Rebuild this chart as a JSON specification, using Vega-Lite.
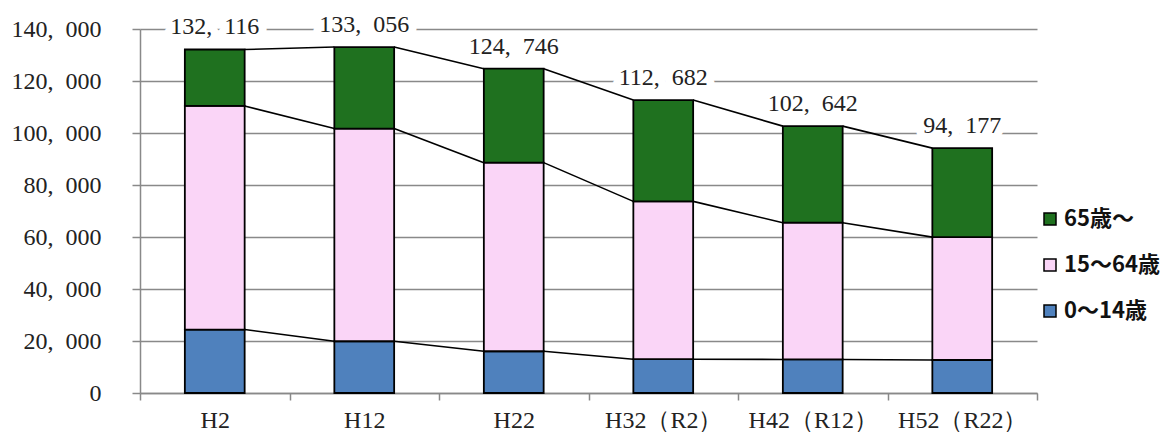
{
  "$schema": "https://vega.github.io/schema/vega-lite/v6.json",
  "width": 897,
  "height": 364,
  "autosize": "none",
  "padding": {"left": 140, "top": 29, "right": 132, "bottom": 39},
  "background": "white",
  "config": {
    "view": {"stroke": null},
    "axis": {"domainColor": "#898989", "tickColor": "#898989", "gridColor": "#898989"}
  },
  "datasets": {
    "bars": [
      {"cat": "H2", "group": "0～14歳", "value": 24400},
      {"cat": "H2", "group": "15～64歳", "value": 86000},
      {"cat": "H2", "group": "65歳～", "value": 21716},
      {"cat": "H12", "group": "0～14歳", "value": 19900},
      {"cat": "H12", "group": "15～64歳", "value": 81800},
      {"cat": "H12", "group": "65歳～", "value": 31356},
      {"cat": "H22", "group": "0～14歳", "value": 16050},
      {"cat": "H22", "group": "15～64歳", "value": 72550},
      {"cat": "H22", "group": "65歳～", "value": 36146},
      {"cat": "H32（R2）", "group": "0～14歳", "value": 13000},
      {"cat": "H32（R2）", "group": "15～64歳", "value": 60700},
      {"cat": "H32（R2）", "group": "65歳～", "value": 38982},
      {"cat": "H42（R12）", "group": "0～14歳", "value": 12900},
      {"cat": "H42（R12）", "group": "15～64歳", "value": 52600},
      {"cat": "H42（R12）", "group": "65歳～", "value": 37142},
      {"cat": "H52（R22）", "group": "0～14歳", "value": 12700},
      {"cat": "H52（R22）", "group": "15～64歳", "value": 47250},
      {"cat": "H52（R22）", "group": "65歳～", "value": 34227}
    ],
    "lines": [
      {"from": "H2", "to": "H12", "y1": 24400, "y2": 19900},
      {"from": "H2", "to": "H12", "y1": 110400, "y2": 101700},
      {"from": "H2", "to": "H12", "y1": 132116, "y2": 133056},
      {"from": "H12", "to": "H22", "y1": 19900, "y2": 16050},
      {"from": "H12", "to": "H22", "y1": 101700, "y2": 88600},
      {"from": "H12", "to": "H22", "y1": 133056, "y2": 124746},
      {"from": "H22", "to": "H32（R2）", "y1": 16050, "y2": 13000},
      {"from": "H22", "to": "H32（R2）", "y1": 88600, "y2": 73700},
      {"from": "H22", "to": "H32（R2）", "y1": 124746, "y2": 112682},
      {"from": "H32（R2）", "to": "H42（R12）", "y1": 13000, "y2": 12900},
      {"from": "H32（R2）", "to": "H42（R12）", "y1": 73700, "y2": 65500},
      {"from": "H32（R2）", "to": "H42（R12）", "y1": 112682, "y2": 102642},
      {"from": "H42（R12）", "to": "H52（R22）", "y1": 12900, "y2": 12700},
      {"from": "H42（R12）", "to": "H52（R22）", "y1": 65500, "y2": 59950},
      {"from": "H42（R12）", "to": "H52（R22）", "y1": 102642, "y2": 94177}
    ],
    "totals": [
      {"cat": "H2", "total": 132116, "label": "132,\u2002116"},
      {"cat": "H12", "total": 133056, "label": "133,\u2002056"},
      {"cat": "H22", "total": 124746, "label": "124,\u2002746"},
      {"cat": "H32（R2）", "total": 112682, "label": "112,\u2002682"},
      {"cat": "H42（R12）", "total": 102642, "label": "102,\u2002642"},
      {"cat": "H52（R22）", "total": 94177, "label": "94,\u2002177"}
    ]
  },
  "layer": [
    {
      "data": {"name": "bars"},
      "mark": {"type": "bar", "width": {"band": 0.4}, "stroke": "black", "strokeWidth": 1.8},
      "encoding": {
        "x": {
          "field": "cat", "type": "nominal",
          "scale": {"domain": ["H2", "H12", "H22", "H32（R2）", "H42（R12）", "H52（R22）"], "paddingInner": 0, "paddingOuter": 0},
          "axis": {
            "title": null, "labelAngle": 0, "tickBand": "extent", "grid": false,
            "domainWidth": 1.5, "tickSize": 7, "tickWidth": 1.5, "labelPadding": 8,
            "labelFont": "Liberation Serif", "labelFontSize": 24, "labelColor": "#222222"
          }
        },
        "y": {
          "field": "value", "type": "quantitative", "stack": "zero",
          "scale": {"domain": [0, 140000], "nice": false},
          "axis": {
            "title": null, "values": [0, 20000, 40000, 60000, 80000, 100000, 120000, 140000],
            "labelExpr": "replace(format(datum.value, ','), ',', ',\u2002')",
            "grid": true, "gridWidth": 1.5, "domainWidth": 1.5, "tickSize": 8, "tickWidth": 1.5,
            "labelPadding": 31, "labelFont": "Liberation Serif", "labelFontSize": 24, "labelColor": "#222222"
          }
        },
        "color": {
          "field": "group", "type": "nominal",
          "scale": {"domain": ["65歳～", "15～64歳", "0～14歳"], "range": ["#1F711F", "#FAD5F7", "#4F81BD"]},
          "legend": {
            "title": null, "orient": "none", "legendX": 899, "legendY": 179,
            "symbolType": "square", "symbolSize": 144, "symbolStrokeColor": "black", "symbolStrokeWidth": 1.5,
            "labelFont": "Noto Sans CJK JP", "labelFontSize": 22, "labelFontWeight": "bold", "labelColor": "#111111",
            "rowPadding": 24, "labelOffset": 3
          }
        },
        "order": {"field": "group", "sort": "ascending"}
      }
    },
    {
      "data": {"name": "lines"},
      "mark": {"type": "rule", "color": "black", "strokeWidth": 1.6},
      "encoding": {
        "x": {"field": "from", "type": "nominal", "bandPosition": 0.7, "scale": {"domain": ["H2", "H12", "H22", "H32（R2）", "H42（R12）", "H52（R22）"]}},
        "x2": {"field": "to", "bandPosition": 0.3},
        "y": {"field": "y1", "type": "quantitative"},
        "y2": {"field": "y2"}
      }
    },
    {
      "data": {"name": "totals"},
      "mark": {"type": "text", "dy": -22, "baseline": "middle", "font": "Liberation Serif", "fontSize": 24, "stroke": "white", "strokeWidth": 16, "fill": "white", "strokeJoin": "round"},
      "encoding": {
        "x": {"field": "cat", "type": "nominal", "scale": {"domain": ["H2", "H12", "H22", "H32（R2）", "H42（R12）", "H52（R22）"]}},
        "y": {"field": "total", "type": "quantitative"},
        "text": {"field": "label"}
      }
    },
    {
      "data": {"name": "totals"},
      "mark": {"type": "text", "dy": -22, "baseline": "middle", "font": "Liberation Serif", "fontSize": 24, "fill": "#222222"},
      "encoding": {
        "x": {"field": "cat", "type": "nominal", "scale": {"domain": ["H2", "H12", "H22", "H32（R2）", "H42（R12）", "H52（R22）"]}},
        "y": {"field": "total", "type": "quantitative"},
        "text": {"field": "label"}
      }
    }
  ]
}
